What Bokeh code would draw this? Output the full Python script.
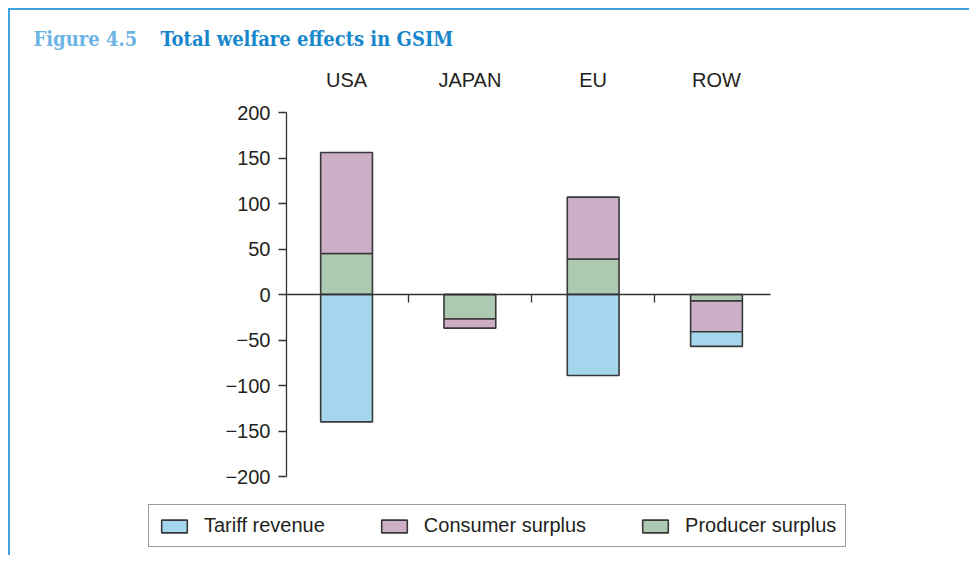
from bokeh.plotting import figure
from bokeh.models import Range1d, FixedTicker, LinearAxis, Label, Legend, LegendItem
from bokeh.embed import file_html
from bokeh.resources import INLINE

# ---- data ----
regions = ["USA", "JAPAN", "EU", "ROW"]
tariff_revenue = [-140, 0, -89, -16]
consumer_surplus = [111, -10, 68, -34]
producer_surplus = [45, -27, 39, -7]
y_ticks = [200, 150, 100, 50, 0, -50, -100, -150, -200]
y_tick_labels = ["200", "150", "100", "50", "0", "\u221250", "\u2212100", "\u2212150", "\u2212200"]
series_names = ["Tariff revenue", "Consumer surplus", "Producer surplus"]
series_colors = ["#a4d6ee", "#cdaec7", "#adc9b1"]

FONT = "Liberation Sans"
TXT = "#231f20"
AX = "#333333"

# ---- layout geometry (canvas pixels) ----
W, H = 961, 547
plot_left, plot_right = 276, 760      # pixel extent of the value axis area
plot_top, plot_bottom = 102, 466
x_lo, x_hi = -0.487, 3.438            # category-index extent of that area
y_lo, y_hi = -200, 200
sx = (plot_right - plot_left) / (x_hi - x_lo)
sy = (plot_bottom - plot_top) / (y_hi - y_lo)
x_range = Range1d(x_lo - plot_left / sx, x_hi + (W - plot_right) / sx)
y_range = Range1d(y_lo - (H - plot_bottom) / sy, y_hi + plot_top / sy)

p = figure(width=W, height=H, output_backend="svg", toolbar_location=None,
           x_range=x_range, y_range=y_range,
           x_axis_location=None, y_axis_location=None, min_border=0)
p.styles = {"border-top": "2px solid #3fa2dc", "border-left": "2px solid #3fa2dc",
            "margin-left": "8px", "margin-top": "8px"}
p.outline_line_color = None
p.xgrid.visible = False
p.ygrid.visible = False

xs = list(range(len(regions)))
stack = [("Producer surplus", producer_surplus), ("Consumer surplus", consumer_surplus),
         ("Tariff revenue", tariff_revenue)]
color_of = dict(zip(series_names, series_colors))
pos = [0] * len(regions)
neg = [0] * len(regions)
rends = {}
for name, vals in stack:
    bottoms, tops = [], []
    for i, v in enumerate(vals):
        if v >= 0:
            bottoms.append(pos[i]); tops.append(pos[i] + v); pos[i] += v
        else:
            bottoms.append(neg[i]); tops.append(neg[i] + v); neg[i] += v
    rends[name] = p.vbar(x=xs, width=0.42, bottom=bottoms, top=tops,
                         fill_color=color_of[name], line_color="#383838", line_width=1.6)

def style_axis(a):
    a.minor_tick_line_color = None
    a.major_tick_in = 0
    a.major_tick_out = 8
    a.axis_line_color = AX
    a.major_tick_line_color = AX
    a.axis_line_width = 1.3
    a.major_tick_line_width = 1.3

# y axis
ya = LinearAxis(fixed_location=x_lo, bounds=(y_lo, y_hi), ticker=FixedTicker(ticks=y_ticks),
                major_label_overrides={t: l for t, l in zip(y_ticks, y_tick_labels)})
style_axis(ya)
ya.major_label_standoff = 8
ya.major_label_text_font = FONT
ya.major_label_text_font_size = "20px"
ya.major_label_text_color = TXT
p.add_layout(ya, "left")

# zero axis with ticks between categories
za = LinearAxis(fixed_location=0, bounds=(x_lo, x_hi),
                ticker=FixedTicker(ticks=[i + 0.5 for i in xs[:-1]]))
style_axis(za)
za.major_label_text_color = None
p.add_layout(za, "below")

# category labels on top
ca = LinearAxis(fixed_location=y_hi, ticker=FixedTicker(ticks=xs),
                major_label_overrides={i: r for i, r in zip(xs, regions)})
ca.axis_line_color = None
ca.major_tick_line_color = None
ca.minor_tick_line_color = None
ca.major_label_standoff = 16
ca.major_label_text_font = FONT
ca.major_label_text_font_size = "20px"
ca.major_label_text_color = TXT
p.add_layout(ca, "above")

# title
p.add_layout(Label(x=23, y=H - 28, x_units="screen", y_units="screen", text="Figure 4.5",
                   text_font="DejaVu Serif Condensed", text_font_style="bold",
                   text_font_size="20px", text_color="#6db4e6", text_baseline="alphabetic"))
p.add_layout(Label(x=150, y=H - 28, x_units="screen", y_units="screen",
                   text="Total welfare effects in GSIM",
                   text_font="DejaVu Serif Condensed", text_font_style="bold",
                   text_font_size="20px", text_color="#1787cc", text_baseline="alphabetic"))

legend = Legend(items=[LegendItem(label=n, renderers=[rends[n]]) for n in series_names],
                location=(138, 10), orientation="horizontal",
                glyph_width=32, glyph_height=16, label_standoff=14, spacing=53,
                padding=9, margin=0, border_line_color=AX, border_line_width=1.2,
                label_text_font=FONT, label_text_font_size="20px", label_text_color=TXT,
                background_fill_alpha=1.0)
p.add_layout(legend, "center")

open("out.html", "w").write(file_html(p, INLINE))
